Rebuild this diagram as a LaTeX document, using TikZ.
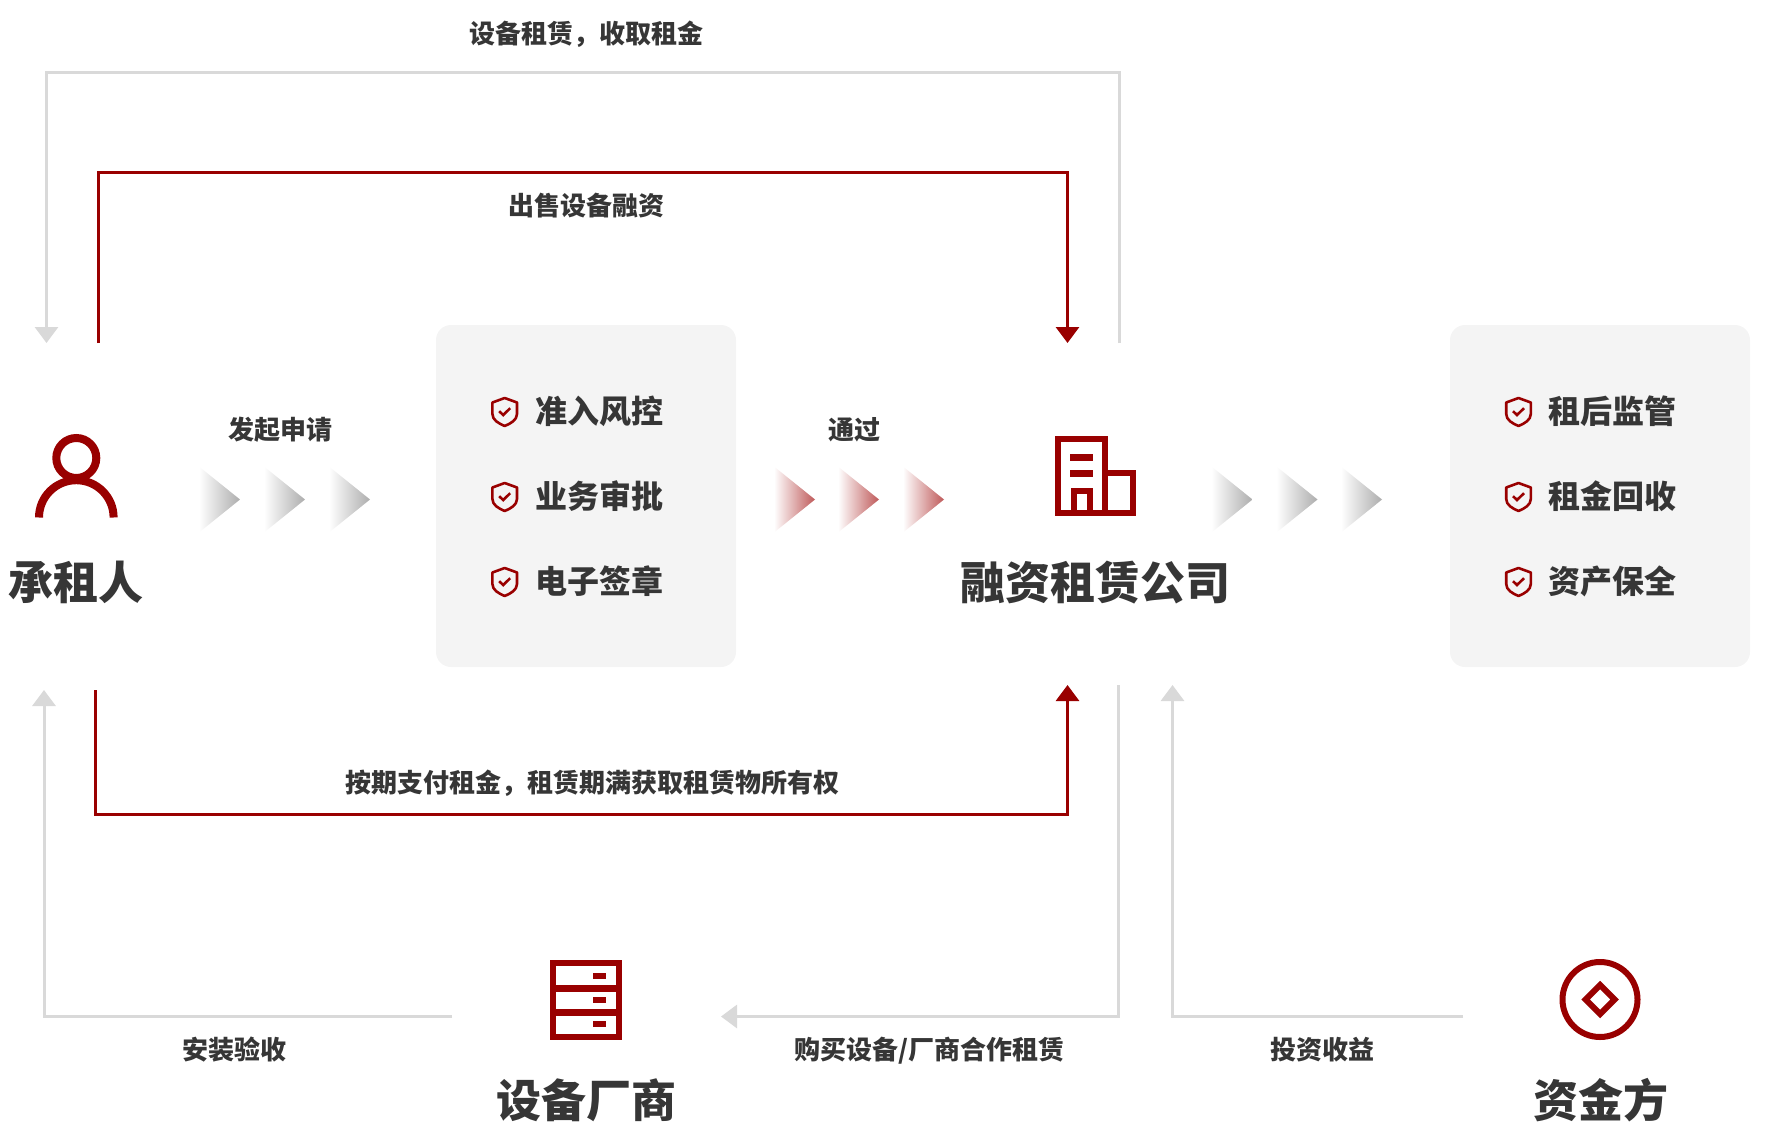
\documentclass[tikz,border=0pt]{standalone}
\usepackage{fontspec}
\setmainfont{Noto Sans CJK SC}
\usetikzlibrary{arrows.meta, positioning, calc}
\definecolor{red1}{HTML}{990000}
\definecolor{gray1}{HTML}{D9D9D9}
\definecolor{panel1}{HTML}{F4F4F4}
\definecolor{ink1}{HTML}{363636}
\definecolor{chev1}{HTML}{ADADAD}
\definecolor{chev2}{HTML}{BF5A5A}

\tikzset{
  redline/.style={draw=red1, line width=3pt},
  grayline/.style={draw=gray1, line width=3pt},
  tipped/.style={-{Triangle[width=23pt, length=16pt]}},
  iconline/.style={draw=red1, line width=6pt},
  smalllabel/.style={text=ink1, inner sep=0pt, font=\fontsize{26}{30}\selectfont\bfseries},
  itemlabel/.style={text=ink1, inner sep=0pt, font=\fontsize{32}{36}\selectfont\bfseries},
  rolelabel/.style={text=ink1, inner sep=0pt, font=\fontsize{45}{50}\selectfont\bfseries},
  panelbox/.style={fill=panel1, rounded corners=15pt},
  shieldmark/.pic={
    \draw[red1, line width=2.6pt, line join=round] (0,-14) -- (12.3,-9.5) -- (12.3,2)
      .. controls (12.3,8) and (6,11.5) .. (0,14)
      .. controls (-6,11.5) and (-12.3,8) .. (-12.3,2) -- (-12.3,-9.5) -- cycle;
    \draw[red1, line width=2.6pt] (-5.5,-0.8) -- (-1.5,3) -- (5.5,-3.8);
  },
}

\begin{document}
\begin{tikzpicture}[x=1pt, y=-1pt]
  \useasboundingbox (0,0) rectangle (1769,1132);

  % panels
  \fill[panelbox] (436,325) rectangle (736,667);
  \fill[panelbox] (1450,325) rectangle (1750,667);

  % connector ends
  \coordinate (tenantGrayIn) at (46.5,343);
  \coordinate (tenantRedOut) at (98,343);
  \coordinate (companyRedIn) at (1067.5,343);
  \coordinate (companyGrayOut) at (1119.5,343);
  \coordinate (outerTop) at (0,73);
  \coordinate (innerTop) at (0,172.5);
  \coordinate (tenantRedPay) at (95,690);
  \coordinate (companyRedPay) at (1067.5,685);
  \coordinate (companyGrayBuy) at (1118.5,685);
  \coordinate (vendorGrayIn) at (721,1016.5);
  \coordinate (vendorGrayOut) at (452,1016.5);
  \coordinate (tenantGrayInstall) at (44,690);
  \coordinate (companyGrayFund) at (1172.5,685);
  \coordinate (funderGrayOut) at (1463,1016.5);
  \coordinate (payBottom) at (0,814.5);

  \draw[grayline, tipped] (companyGrayOut) -- (companyGrayOut |- outerTop) -- (tenantGrayIn |- outerTop) -- (tenantGrayIn);
  \draw[redline, tipped] (tenantRedOut) -- (tenantRedOut |- innerTop) -- (companyRedIn |- innerTop) -- (companyRedIn);
  \draw[redline, tipped] (tenantRedPay) -- (tenantRedPay |- payBottom) -- (companyRedPay |- payBottom) -- (companyRedPay);
  \draw[grayline, tipped] (companyGrayBuy) |- (vendorGrayIn);
  \draw[grayline, tipped] (vendorGrayOut) -| (tenantGrayInstall);
  \draw[grayline, tipped] (funderGrayOut) -| (companyGrayFund);

  % chevrons
  \foreach \xpos in {199,264,329,1211.5,1276.5,1341}
    \shade[left color=white, right color=chev1] (\xpos,466.5) -- (\xpos+41,499.5) -- (\xpos,532.5) -- cycle;
  \foreach \xpos in {774,838,903}
    \shade[left color=white, right color=chev2] (\xpos,466.5) -- (\xpos+41,499.5) -- (\xpos,532.5) -- cycle;

  % person
  \draw[red1, line width=8pt] (76.3,458) circle (20);
  \draw[red1, line width=8pt] (39,517.5) arc[start angle=180, end angle=360, radius=37.3];

  % building
  \draw[iconline] (1058,439) rectangle (1105,513);
  \draw[iconline] (1105,473) rectangle (1133,513);
  \fill[red1] (1070,454) rectangle (1093,461);
  \fill[red1] (1070,470) rectangle (1093,476.5);
  \draw[iconline] (1074,513) -- (1074,491) -- (1090,491) -- (1090,513);

  % server
  \draw[iconline] (553,962.5) rectangle (619,1036.5);
  \fill[red1] (550,984.5) rectangle (622,991.5);
  \fill[red1] (550,1008.5) rectangle (622,1015.5);
  \foreach \ypos in {972.5,996.5,1020.5}
    \fill[red1] (593,\ypos) rectangle (606,\ypos+6.5);

  % coin
  \draw[red1, line width=6pt] (1600,999.5) circle (37.5);
  \draw[red1, line width=6pt] (1600,985) -- (1614.5,999.5) -- (1600,1014) -- (1585.5,999.5) -- cycle;

  % shields
  \foreach \ypos in {412,497,582} {
    \pic at (504.7,\ypos) {shieldmark};
    \pic at (1518.5,\ypos) {shieldmark};
  }

  \node[itemlabel] (riskItem) at (599,411) {准入风控};
  \node[itemlabel] (reviewItem) at (599,496) {业务审批};
  \node[itemlabel] (signItem) at (599,581) {电子签章};
  \node[itemlabel] (monitorItem) at (1612.5,411) {租后监管};
  \node[itemlabel] (collectItem) at (1612.5,496) {租金回收};
  \node[itemlabel] (preserveItem) at (1612.5,581) {资产保全};

  \node[rolelabel] (tenant) at (76,582.5) {承租人};
  \node[rolelabel] (company) at (1095,582.5) {融资租赁公司};
  \node[rolelabel] (vendor) at (586,1100.5) {设备厂商};
  \node[rolelabel] (funder) at (1600.5,1100.5) {资金方};

  \node[smalllabel] (leaseLabel) at (586,34) {设备租赁，收取租金};
  \node[smalllabel] (sellLabel) at (586,206) {出售设备融资};
  \node[smalllabel] (applyLabel) at (280.5,430) {发起申请};
  \node[smalllabel] (passLabel) at (854,430) {通过};
  \node[smalllabel] (payLabel) at (592,783.5) {按期支付租金，租赁期满获取租赁物所有权};
  \node[smalllabel] (installLabel) at (234,1050) {安装验收};
  \node[smalllabel] (buyLabel) at (929,1050.5) {购买设备/厂商合作租赁};
  \node[smalllabel] (returnLabel) at (1322,1050) {投资收益};
\end{tikzpicture}
\end{document}
